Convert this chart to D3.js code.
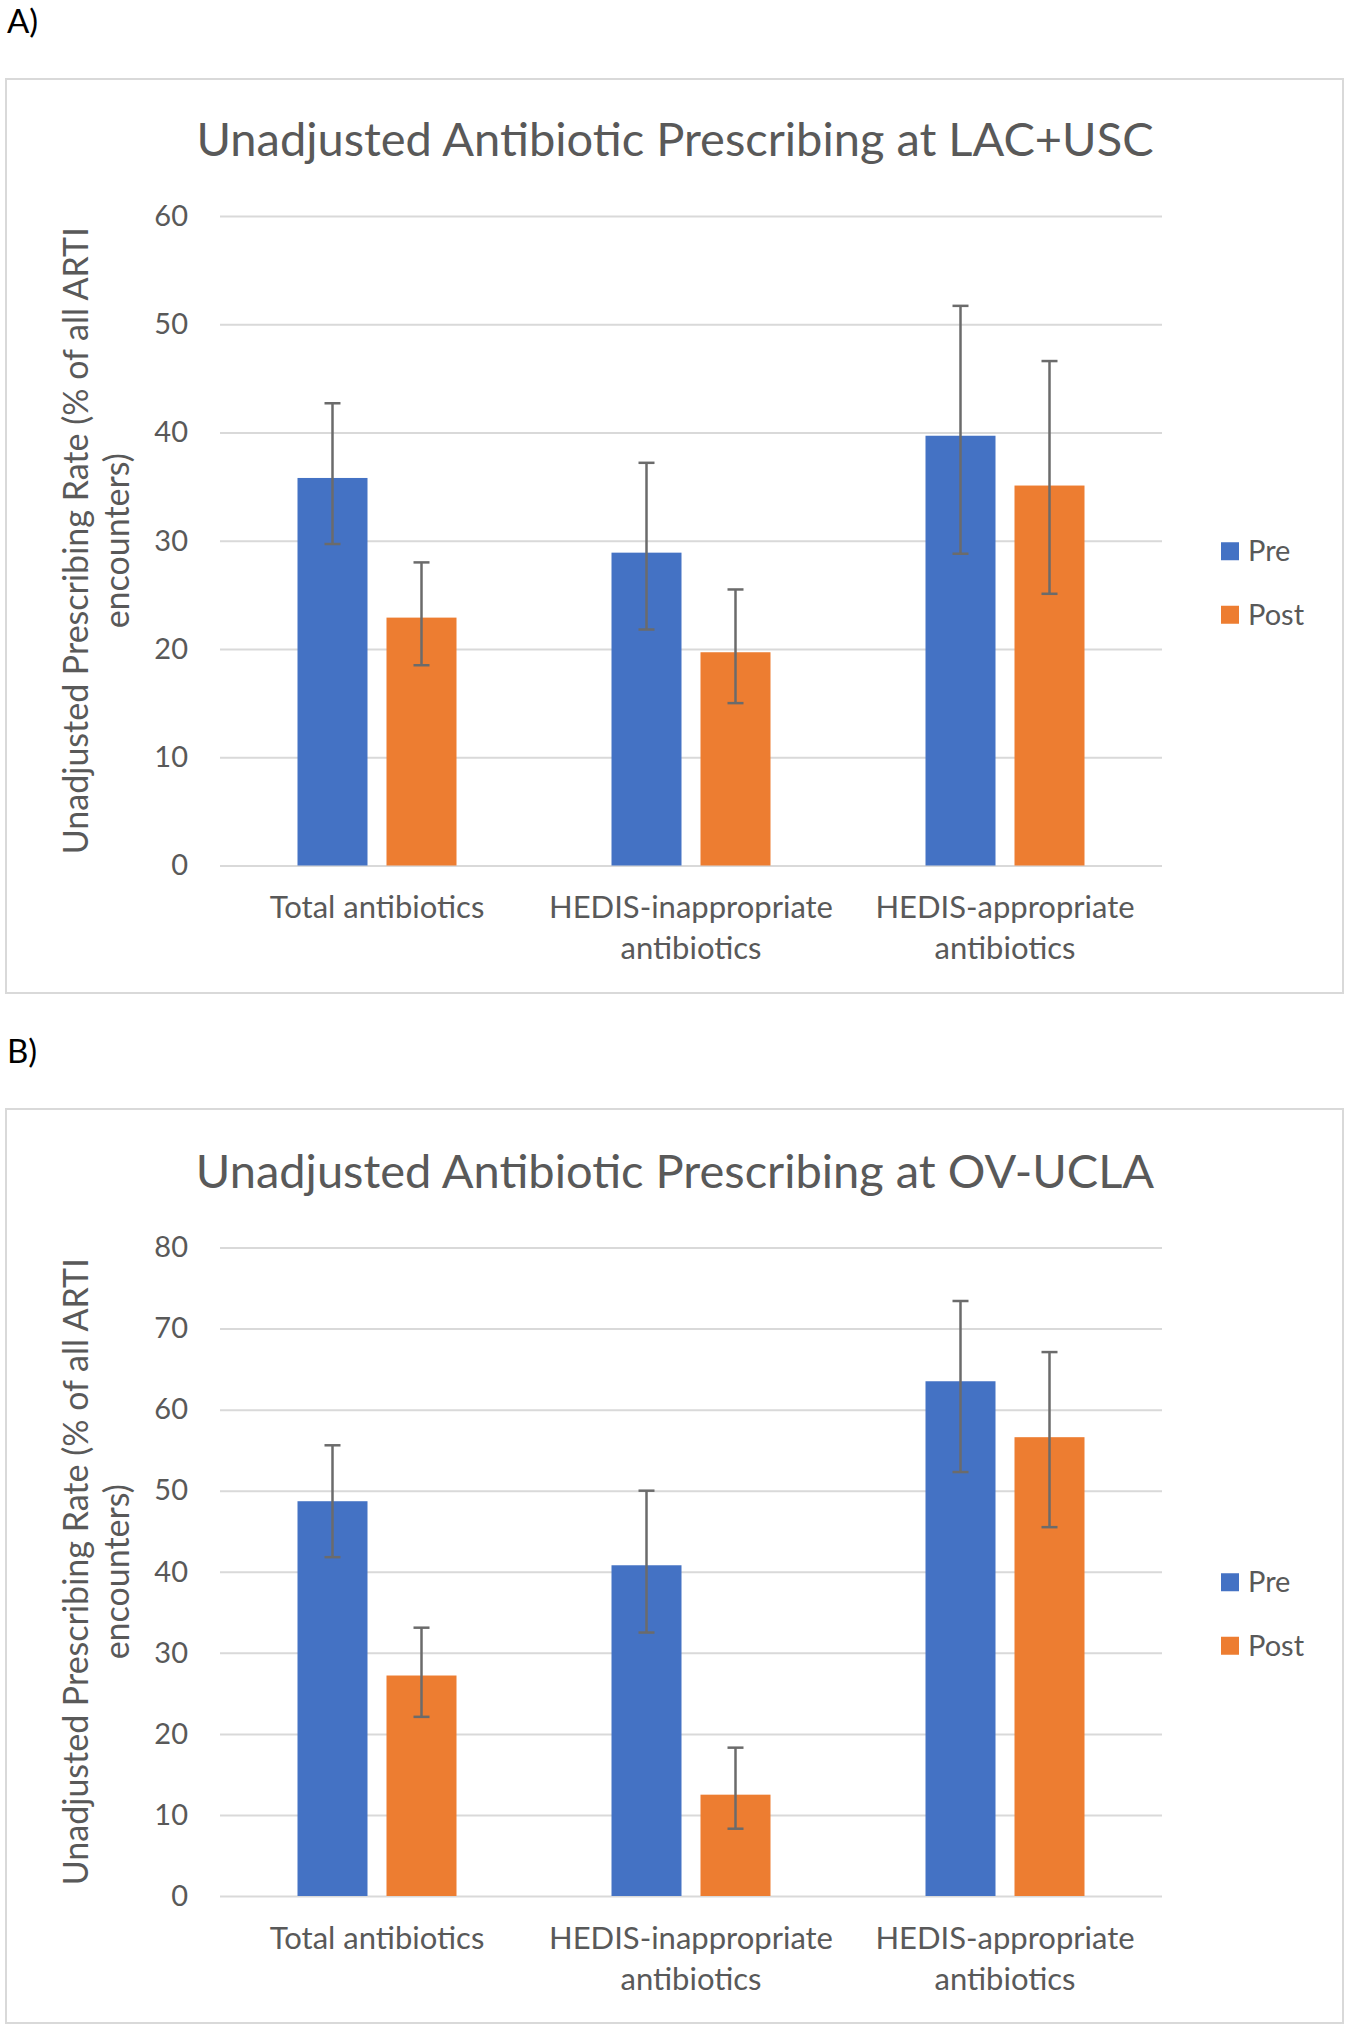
<!DOCTYPE html>
<html>
<head>
<meta charset="utf-8">
<script src="https://cdn.jsdelivr.net/npm/d3@7"></script>
<style>
  html, body { margin: 0; padding: 0; background: #fff; }
  svg { display: block; }
  text { font-family: Lato, "Open Sans", "Liberation Sans", sans-serif; }
</style>
</head>
<body>
<svg id="chart" width="1350" height="2030"></svg>
<script>
// ---------- data ----------
const categories = ["Total antibiotics", "HEDIS-inappropriate antibiotics", "HEDIS-appropriate antibiotics"];
const seriesNames = ["Pre", "Post"];
const seriesColors = ["#4472C4", "#ED7D31"];

// Panel A: LAC+USC
const lacTitle = "Unadjusted Antibiotic Prescribing at LAC+USC";
const lacPre      = [35.8, 28.9, 39.7];
const lacPreLow   = [29.7, 21.8, 28.8];
const lacPreHigh  = [42.7, 37.2, 51.7];
const lacPost     = [22.9, 19.7, 35.1];
const lacPostLow  = [18.5, 15.0, 25.1];
const lacPostHigh = [28.0, 25.5, 46.6];
const lacTicks    = [0, 10, 20, 30, 40, 50, 60];

// Panel B: OV-UCLA
const ovTitle = "Unadjusted Antibiotic Prescribing at OV-UCLA";
const ovPre      = [48.7, 40.8, 63.5];
const ovPreLow   = [41.8, 32.5, 52.3];
const ovPreHigh  = [55.6, 50.0, 73.4];
const ovPost     = [27.2, 12.5, 56.6];
const ovPostLow  = [22.1, 8.3, 45.5];
const ovPostHigh = [33.1, 18.3, 67.1];
const ovTicks    = [0, 10, 20, 30, 40, 50, 60, 70, 80];

const yAxisTitle = ["Unadjusted Prescribing Rate (% of all ARTI", "encounters)"];
const panelLabels = ["A)", "B)"];

// ---------- drawing ----------
const svg = d3.select("#chart");
svg.append("rect").attr("width", 1350).attr("height", 2030).attr("fill", "#fff");

const TEXT = "#595959";

function drawPanel(cfg) {
  const g = svg.append("g");
  // panel label
  g.append("text").attr("x", 7).attr("y", cfg.labelY)
    .attr("font-size", 33).attr("fill", "#000").text(cfg.label);

  // chart border
  g.append("rect").attr("x", 6).attr("y", cfg.boxTop)
    .attr("width", 1337).attr("height", cfg.boxBottom - cfg.boxTop)
    .attr("fill", "#fff").attr("stroke", "#d9d9d9").attr("stroke-width", 2);

  const left = 220, right = 1162, top = cfg.plotTop, bottom = cfg.plotBottom;
  const plotW = right - left;

  const y = d3.scaleLinear().domain([0, d3.max(cfg.ticks)]).range([bottom, top]);
  const x0 = d3.scaleBand().domain(categories).range([left, right]).padding(0);
  const groupW = 159;
  const off = (x0.bandwidth() - groupW) / 2;
  const x1 = d3.scaleBand().domain(seriesNames).range([off, off + groupW]).paddingInner(0.2135).paddingOuter(0);

  // title
  g.append("text").attr("x", 675).attr("y", top - 60)
    .attr("text-anchor", "middle").attr("font-size", 47).attr("fill", TEXT)
    .text(cfg.title);

  // y axis with gridlines
  const yAxis = d3.axisLeft(y).tickValues(cfg.ticks).tickSize(-plotW).tickPadding(32);
  const ya = g.append("g").attr("transform", `translate(${left},0)`).call(yAxis);
  ya.select(".domain").remove();
  ya.selectAll(".tick line").attr("stroke", "#d9d9d9").attr("stroke-width", 2);
  ya.selectAll(".tick text").attr("fill", TEXT).attr("font-size", 29)
    .attr("font-family", "Lato, 'Open Sans', sans-serif");

  // x axis category labels
  const xAxis = d3.axisBottom(x0).tickSize(0).tickPadding(0);
  const xa = g.append("g").attr("transform", `translate(0,${bottom})`).call(xAxis);
  xa.select(".domain").remove();
  xa.selectAll(".tick text").each(function(d) {
    const t = d3.select(this);
    t.text(null).attr("y", 0).attr("dy", null)
      .attr("fill", TEXT).attr("font-size", 31)
      .attr("font-family", "Lato, 'Open Sans', sans-serif");
    const words = d.split(" ");
    const lines = [];
    let cur = [];
    const probe = t.append("tspan");
    words.forEach(w => {
      const trial = cur.concat([w]).join(" ");
      probe.text(trial);
      if (probe.node().getComputedTextLength() > 305 && cur.length) {
        lines.push(cur.join(" "));
        cur = [w];
      } else {
        cur.push(w);
      }
    });
    lines.push(cur.join(" "));
    probe.remove();
    lines.forEach((ln, i) => {
      t.append("tspan").attr("x", 0).attr("y", 52.5 + i * 41).text(ln);
    });
  });

  // bars
  const rows = categories.map((c, i) => ({
    cat: c,
    vals: [
      { s: "Pre", v: cfg.pre[i], lo: cfg.preLow[i], hi: cfg.preHigh[i] },
      { s: "Post", v: cfg.post[i], lo: cfg.postLow[i], hi: cfg.postHigh[i] }
    ]
  }));
  const color = d3.scaleOrdinal().domain(seriesNames).range(seriesColors);

  const grp = g.append("g").selectAll("g").data(rows).join("g")
    .attr("transform", d => `translate(${x0(d.cat)},0)`);
  grp.selectAll("rect").data(d => d.vals).join("rect")
    .attr("x", d => x1(d.s)).attr("width", x1.bandwidth())
    .attr("y", d => y(d.v)).attr("height", d => y(0) - y(d.v))
    .attr("fill", d => color(d.s));

  // error bars
  const cap = 8;
  const eb = grp.selectAll("g.err").data(d => d.vals).join("g").attr("class", "err")
    .attr("stroke", "#6b6b6b").attr("stroke-width", 2.5);
  eb.append("line")
    .attr("x1", d => x1(d.s) + x1.bandwidth() / 2).attr("x2", d => x1(d.s) + x1.bandwidth() / 2)
    .attr("y1", d => y(d.lo)).attr("y2", d => y(d.hi));
  eb.append("line")
    .attr("x1", d => x1(d.s) + x1.bandwidth() / 2 - cap).attr("x2", d => x1(d.s) + x1.bandwidth() / 2 + cap)
    .attr("y1", d => y(d.hi)).attr("y2", d => y(d.hi));
  eb.append("line")
    .attr("x1", d => x1(d.s) + x1.bandwidth() / 2 - cap).attr("x2", d => x1(d.s) + x1.bandwidth() / 2 + cap)
    .attr("y1", d => y(d.lo)).attr("y2", d => y(d.lo));

  // y axis title
  const midY = (top + bottom) / 2;
  const yt = g.append("text").attr("transform", `translate(0,${midY}) rotate(-90)`)
    .attr("text-anchor", "middle").attr("fill", TEXT).attr("font-size", 34);
  yt.append("tspan").attr("x", 0).attr("y", 88).text(yAxisTitle[0]);
  yt.append("tspan").attr("x", 0).attr("y", 129).text(yAxisTitle[1]);

  // legend
  const legY = midY + 42;
  const leg = g.append("g").selectAll("g").data(seriesNames).join("g")
    .attr("transform", (d, i) => `translate(1221,${legY - 31.5 + i * 63.5})`);
  leg.append("rect").attr("x", 0).attr("y", -9).attr("width", 18).attr("height", 18)
    .attr("fill", d => color(d));
  leg.append("text").attr("x", 27).attr("y", 10).attr("fill", TEXT)
    .attr("font-size", 29).text(d => d);
}

drawPanel({
  label: panelLabels[0], labelY: 33, boxTop: 79, boxBottom: 993,
  plotTop: 216, plotBottom: 865.5, ticks: lacTicks, title: lacTitle,
  pre: lacPre, preLow: lacPreLow, preHigh: lacPreHigh,
  post: lacPost, postLow: lacPostLow, postHigh: lacPostHigh
});
drawPanel({
  label: panelLabels[1], labelY: 1063, boxTop: 1109, boxBottom: 2023,
  plotTop: 1247.5, plotBottom: 1896, ticks: ovTicks, title: ovTitle,
  pre: ovPre, preLow: ovPreLow, preHigh: ovPreHigh,
  post: ovPost, postLow: ovPostLow, postHigh: ovPostHigh
});
</script>
</body>
</html>
